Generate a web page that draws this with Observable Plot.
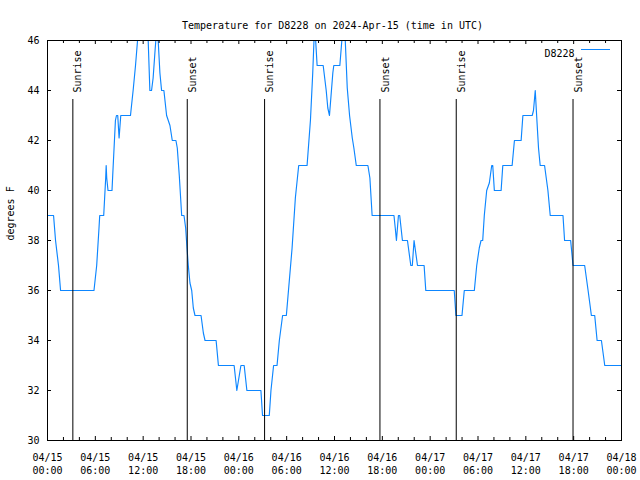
<!DOCTYPE html>
<html><head><meta charset="utf-8">
<script src="https://cdn.jsdelivr.net/npm/d3@7"></script>
<script src="https://cdn.jsdelivr.net/npm/@observablehq/plot@0.6"></script>
<style>body{margin:0;background:#fff}</style>
</head><body><div id="chart"></div>
<script>
// hours since 2024-04-15 00:00 UTC
const hours = [
  0, 0.76, 1.01, 1.38, 1.64, 5.83, 6.17, 6.46, 6.55, 7.05, 7.30, 7.36, 7.43, 7.59, 8.09, 8.18, 8.52, 8.65, 8.81, 8.98, 9.19, 10.41, 10.54, 10.74, 11.04, 11.37, 11.6, 12.4, 12.63, 12.84, 13.05, 13.25, 13.47, 13.68, 13.85, 14.10, 14.31, 14.60, 14.94, 15.36, 15.65, 16.11, 16.28, 16.53, 16.83, 17.12, 17.33, 17.50, 17.66, 17.87, 18.09, 18.29, 18.50, 19.26, 19.55, 19.76, 21.15, 21.44, 23.41, 23.75,
  24.26, 24.67, 25.01, 26.77, 26.97, 27.82, 28.03, 28.36, 28.79, 29.08, 29.49, 29.96, 30.68, 31.09, 31.51, 32.56, 32.98, 33.27, 33.45, 33.6, 33.82, 34.58, 34.96, 35.16, 35.37, 35.79, 35.91, 36.67, 36.97, 37.2, 37.35, 37.60, 37.89, 38.23, 38.43, 38.73, 40.19, 40.44, 40.72, 43.46, 43.62, 43.77, 44.02, 44.18, 44.52, 45.15, 45.57, 45.76, 45.98, 46.41, 47.24, 47.45,
  51.02, 51.23, 51.99, 52.28, 53.54, 53.84, 54.16, 54.38, 54.59, 54.79, 55.09, 55.42, 55.72, 55.85, 56.05, 56.90, 57.11, 58.28, 58.57, 59.41, 59.63, 60.80, 60.96, 61.18, 61.39, 61.59, 61.80, 62.35, 62.56, 62.77, 63.06, 64.66, 64.86, 65.62, 65.92, 67.38, 67.81, 68.10, 68.22, 68.64, 68.94, 69.48, 69.90, 72
];
const tempF = [
  39, 39, 38, 37, 36, 36, 37, 38.5, 39, 39, 40.5, 41, 40.5, 40, 40, 40.6, 42.8, 43, 43, 42.1, 43, 43, 43.4, 44, 45, 46.3, 47, 47, 46, 44, 44, 44.5, 45.5, 46.4, 46.2, 44.7, 44, 44, 43, 42.6, 42, 42, 41.7, 40.6, 39, 39, 38.5, 37.7, 37, 36.3, 36, 35.3, 35, 35, 34.3, 34, 34, 33, 33, 32,
  33, 33, 32, 32, 31, 31, 32, 33, 33, 34, 35, 35, 37.7, 39.7, 41, 41, 42.8, 44.7, 46.2, 46.2, 45, 45, 44, 43.3, 43, 44.7, 45, 45, 46.2, 46.5, 46, 44.1, 43, 42.1, 41.7, 41, 41, 40.5, 39, 39, 38.5, 38, 39, 39, 38, 38, 37, 37, 38, 37, 37, 36,
  36, 35, 35, 36, 36, 37, 37.7, 38, 38, 39, 40, 40.3, 41, 41, 40, 40, 41, 41, 42, 42, 43, 43, 43.2, 44, 42.8, 41.7, 41, 41, 40.5, 40, 39, 39, 38, 38, 37, 37, 36, 35.3, 35, 35, 34, 34, 33, 33
];
const sunriseHours = [3.18, 27.23, 51.27];
const sunsetHours = [17.53, 41.70, 65.92];
const yTicks = [30, 32, 34, 36, 38, 40, 42, 44, 46];
const xTickHours = [0, 6, 12, 18, 24, 30, 36, 42, 48, 54, 60, 66, 72];
const xTickLabels = ["04/15\n00:00","04/15\n06:00","04/15\n12:00","04/15\n18:00","04/16\n00:00","04/16\n06:00","04/16\n12:00","04/16\n18:00","04/17\n00:00","04/17\n06:00","04/17\n12:00","04/17\n18:00","04/18\n00:00"];
const minorTickHours = [2, 4, 8, 10, 14, 16, 20, 22, 26, 28, 32, 34, 38, 40, 44, 46, 50, 52, 56, 58, 62, 64, 68, 70];
const seriesName = "D8228";
const titleText = "Temperature for D8228 on 2024-Apr-15 (time in UTC)";
const yLabel = "degrees F";

const start = Date.UTC(2024, 3, 15);
const toDate = h => new Date(start + h * 3600e3);
const data = hours.map((h, i) => ({t: toDate(h), v: tempF[i]}));
const blue = "#0d86ff";

const chart = Plot.plot({
  width: 640, height: 480,
  marginLeft: 47, marginRight: 19, marginTop: 40, marginBottom: 40,
  style: {fontFamily: "'DejaVu Sans Mono', monospace", fontSize: "10px", background: "#fff", color: "#000"},
  x: {type: "utc", domain: [toDate(0), toDate(72)], axis: null},
  y: {domain: [30, 46], axis: null},
  marks: [
    Plot.line(data, {x: "t", y: "v", stroke: blue, strokeWidth: 1.15, clip: true}),
    Plot.ruleX(sunriseHours.concat(sunsetHours), {x: toDate, insetTop: 59, stroke: "#000"}),
    Plot.text(sunriseHours, {x: toDate, text: () => "Sunrise", frameAnchor: "top", rotate: -90, textAnchor: "start", dy: 52, dx: 1.5, fill: "#000"}),
    Plot.text(sunsetHours, {x: toDate, text: () => "Sunset", frameAnchor: "top", rotate: -90, textAnchor: "start", dy: 52, dx: 1.5, fill: "#000"}),
    // ticks (inside, mirrored)
    Plot.ruleX(xTickHours, {x: toDate, insetTop: 396, stroke: "#000"}),
    Plot.ruleX(xTickHours, {x: toDate, insetBottom: 396, stroke: "#000"}),
    Plot.ruleX(minorTickHours, {x: toDate, insetTop: 397, stroke: "#000"}),
    Plot.ruleX(minorTickHours, {x: toDate, insetBottom: 397, stroke: "#000"}),
    Plot.ruleY(yTicks, {y: d => d, insetRight: 570, stroke: "#000"}),
    Plot.ruleY(yTicks, {y: d => d, insetLeft: 570, stroke: "#000"}),
    // tick labels
    Plot.text(xTickHours, {x: toDate, text: (d, i) => xTickLabels[i], frameAnchor: "bottom", dy: 11, lineAnchor: "top", lineHeight: 1.3, fill: "#000"}),
    Plot.text(yTicks, {y: d => d, text: d => String(d), frameAnchor: "left", dx: -8, textAnchor: "end", fill: "#000"}),
    Plot.text([yLabel], {text: d => d, frameAnchor: "left", rotate: -90, dx: -37, fill: "#000"}),
    Plot.text([titleText], {text: d => d, frameAnchor: "top", dy: -19, dx: -2, fill: "#000"}),
    // legend
    Plot.text([seriesName], {text: d => d, frameAnchor: "top-right", dx: -47, dy: 9, textAnchor: "end", fill: "#000"}),
    Plot.ruleY([yTicks[yTicks.length - 1]], {y: d => d, insetLeft: 534, insetRight: 11, dy: 9, stroke: blue}),
    Plot.frame({stroke: "#000"})
  ]
});
document.getElementById("chart").appendChild(chart);
</script>
</body></html>
